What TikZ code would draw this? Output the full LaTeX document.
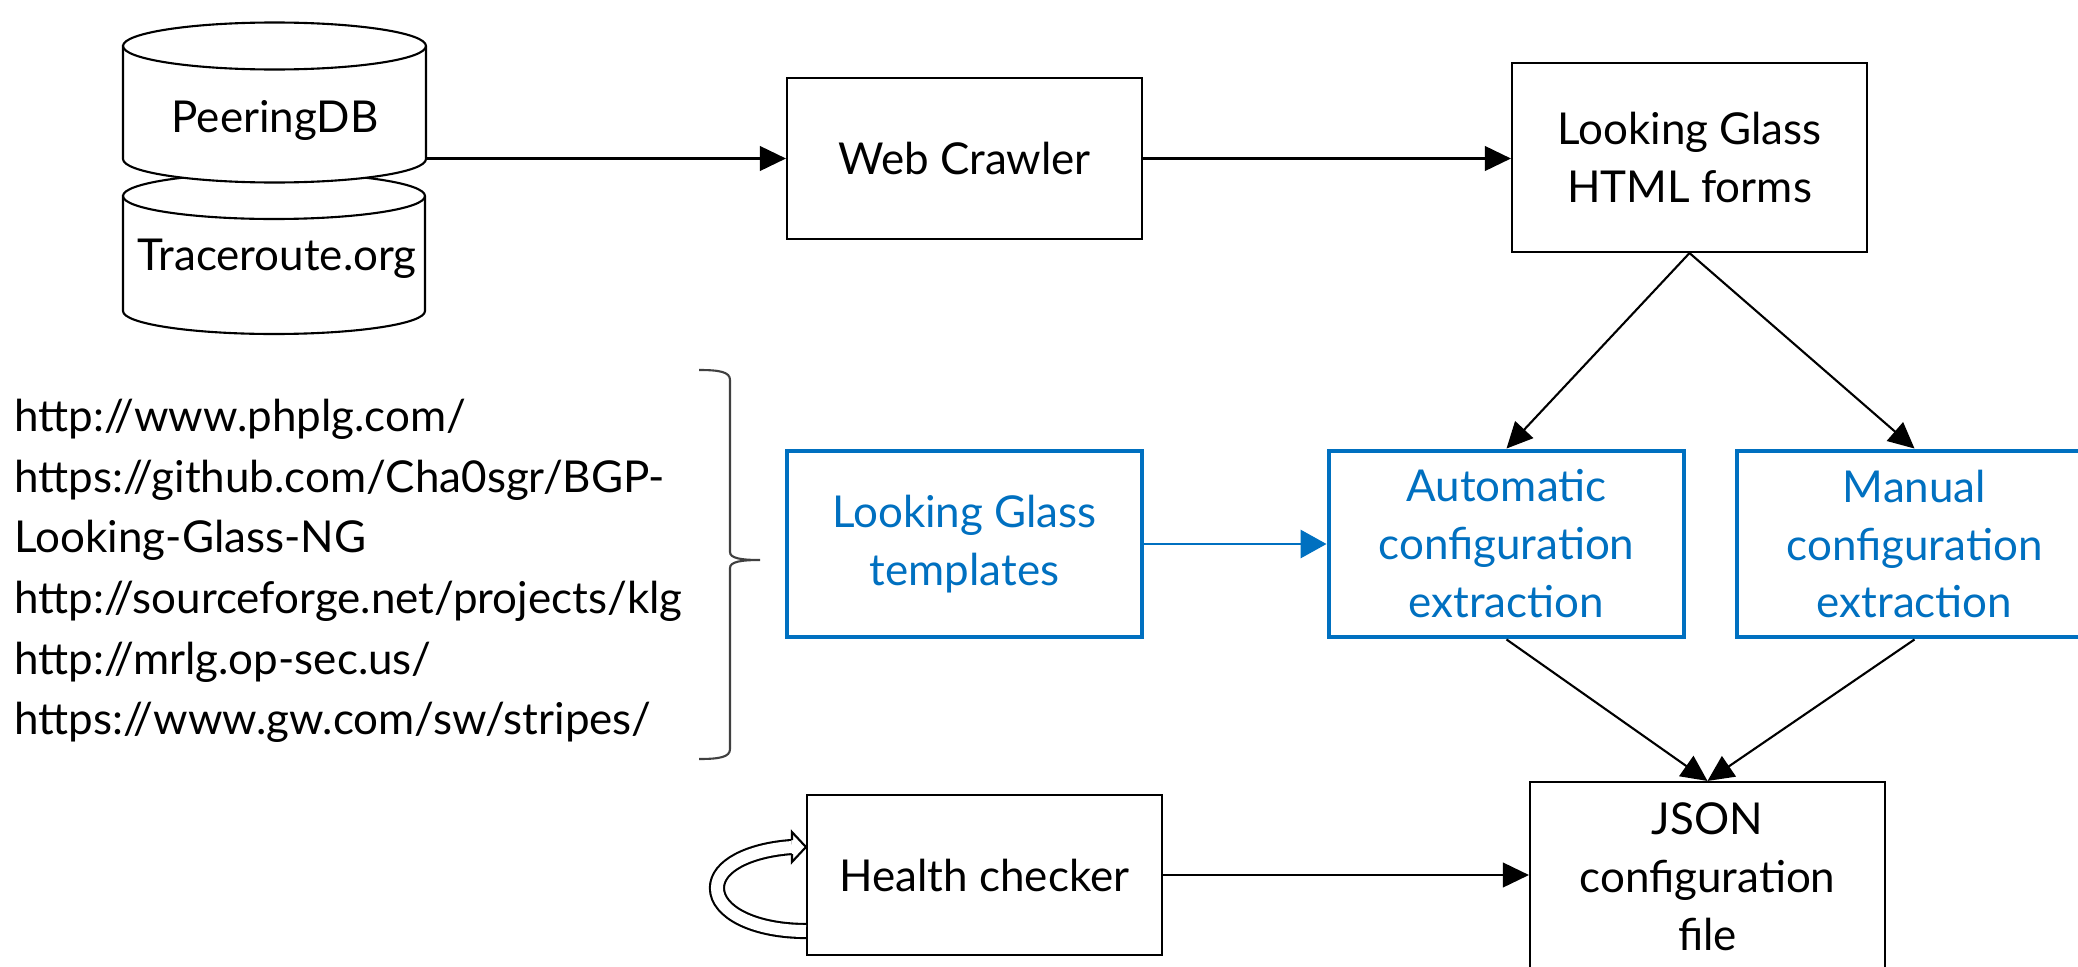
\documentclass[tikz,border=0pt]{standalone}
\usepackage{fontspec}
\setmainfont{Lato}
\usetikzlibrary{arrows.meta,calc}
\definecolor{lgblue}{RGB}{0,112,192}
\begin{document}
\begin{tikzpicture}[x=1cm,y=1cm,
  txt/.style={font=\fontsize{12.5}{16.5}\selectfont},
  box/.style={txt,draw=black,line width=0.6pt,minimum width=3.55cm,inner sep=0pt,align=center,fill=white},
  bluebox/.style={box,draw=lgblue,text=lgblue,line width=1.4pt},
  arr/.style={line width=0.6pt,-{Triangle[length=7.4pt,width=7pt]}},
  barr/.style={line width=0.8pt,draw=lgblue,-{Triangle[length=7.4pt,width=8pt,fill=lgblue]}},
  cyl/.style={line width=0.6pt,fill=white}
]
\useasboundingbox (0,0) rectangle (20.78,-9.67);
\clip (0,0) rectangle (20.78,-9.67);

% lower cylinder
\draw[cyl] (1.23,-1.96) -- (1.23,-3.11) arc[start angle=180,end angle=360,x radius=1.51,y radius=0.23] -- (4.25,-1.96) arc[start angle=0,end angle=180,x radius=1.51,y radius=0.23] -- cycle;
\draw[line width=0.6pt] (1.23,-1.96) arc[start angle=180,end angle=360,x radius=1.51,y radius=0.23];
% upper cylinder
\draw[cyl] (1.23,-0.46) -- (1.23,-1.59) arc[start angle=180,end angle=360,x radius=1.515,y radius=0.235] -- (4.26,-0.46) arc[start angle=0,end angle=180,x radius=1.515,y radius=0.235] -- cycle;
\draw[line width=0.6pt] (1.23,-0.46) arc[start angle=180,end angle=360,x radius=1.515,y radius=0.235];

\node[txt,anchor=base] (peer) at (2.75,-1.32) {PeeringDB};
\node[txt,anchor=base] (trace) at (2.77,-2.70) {Traceroute.org};
\coordinate (dbout) at (4.26,-1.585);

\node[box,minimum height=1.61cm] (web) at (9.645,-1.585) {Web Crawler};
\node[box,minimum height=1.89cm] (lg) at (16.895,-1.575) {Looking Glass\\HTML forms};
\node[bluebox,minimum height=1.86cm] (tmpl) at (9.645,-5.44) {Looking Glass\\templates};
\node[bluebox,minimum height=1.86cm] (auto) at (15.065,-5.44) {Automatic\\configuration\\extraction};
\node[bluebox,minimum height=1.86cm] (man) at (19.145,-5.44) {Manual\\configuration\\extraction};
\node[box,minimum height=1.60cm] (hc) at (9.845,-8.75) {Health checker};
\node[box,minimum height=1.89cm] (json) at (17.075,-8.765) {JSON\\configuration\\file};

\node[font=\fontsize{12.5}{17.24}\selectfont,align=left,anchor=west,inner sep=0pt] (urls) at (0.14,-5.71) {http://www.phplg.com/\\https://github.com/Cha0sgr/BGP-\\Looking-Glass-NG\\http://sourceforge.net/projects/klg\\http://mrlg.op-sec.us/\\https://www.gw.com/sw/stripes/};

% brace
\draw[line width=0.6pt,black!75] (6.99,-3.70) .. controls (7.20,-3.70) and (7.30,-3.72) .. (7.30,-3.80) -- (7.30,-5.52) .. controls (7.30,-5.58) and (7.40,-5.60) .. (7.60,-5.60) .. controls (7.40,-5.60) and (7.30,-5.62) .. (7.30,-5.68) -- (7.30,-7.49) .. controls (7.30,-7.57) and (7.20,-7.59) .. (6.99,-7.59);

% connectors
\draw[arr] (dbout) -- (web.west);
\draw[arr] (web.east) -- (web.east -| lg.west);
\draw[arr] (lg.south) -- (auto.north);
\draw[arr] (lg.south) -- (man.north);
\draw[barr] (tmpl.east) -- (auto.west);
\draw[arr] (auto.south) -- (json.north);
\draw[arr] (man.south) -- (json.north);
\draw[arr] (hc.east) -- (hc.east -| json.west);

% self loop of health checker
\coordinate (loopstart) at ($(hc.west)+(0,-0.56)$);
\coordinate (loopend) at ($(hc.west)+(-0.14,0.28)$);
\draw[line width=0.6pt,double=white,double distance=3.4pt] (loopstart) .. controls +(-0.52,0) and +(0,-0.24) .. ($(hc.west)+(-0.89,-0.13)$) .. controls +(0,0.22) and +(-0.43,-0.03) .. (loopend);
\draw[line width=0.6pt,fill=white] ($(loopend)+(0,0.07)$) -- ($(loopend)+(0,0.15)$) -- (hc.west |- loopend) -- ($(loopend)+(0,-0.15)$) -- ($(loopend)+(0,-0.07)$);
\end{tikzpicture}
\end{document}
